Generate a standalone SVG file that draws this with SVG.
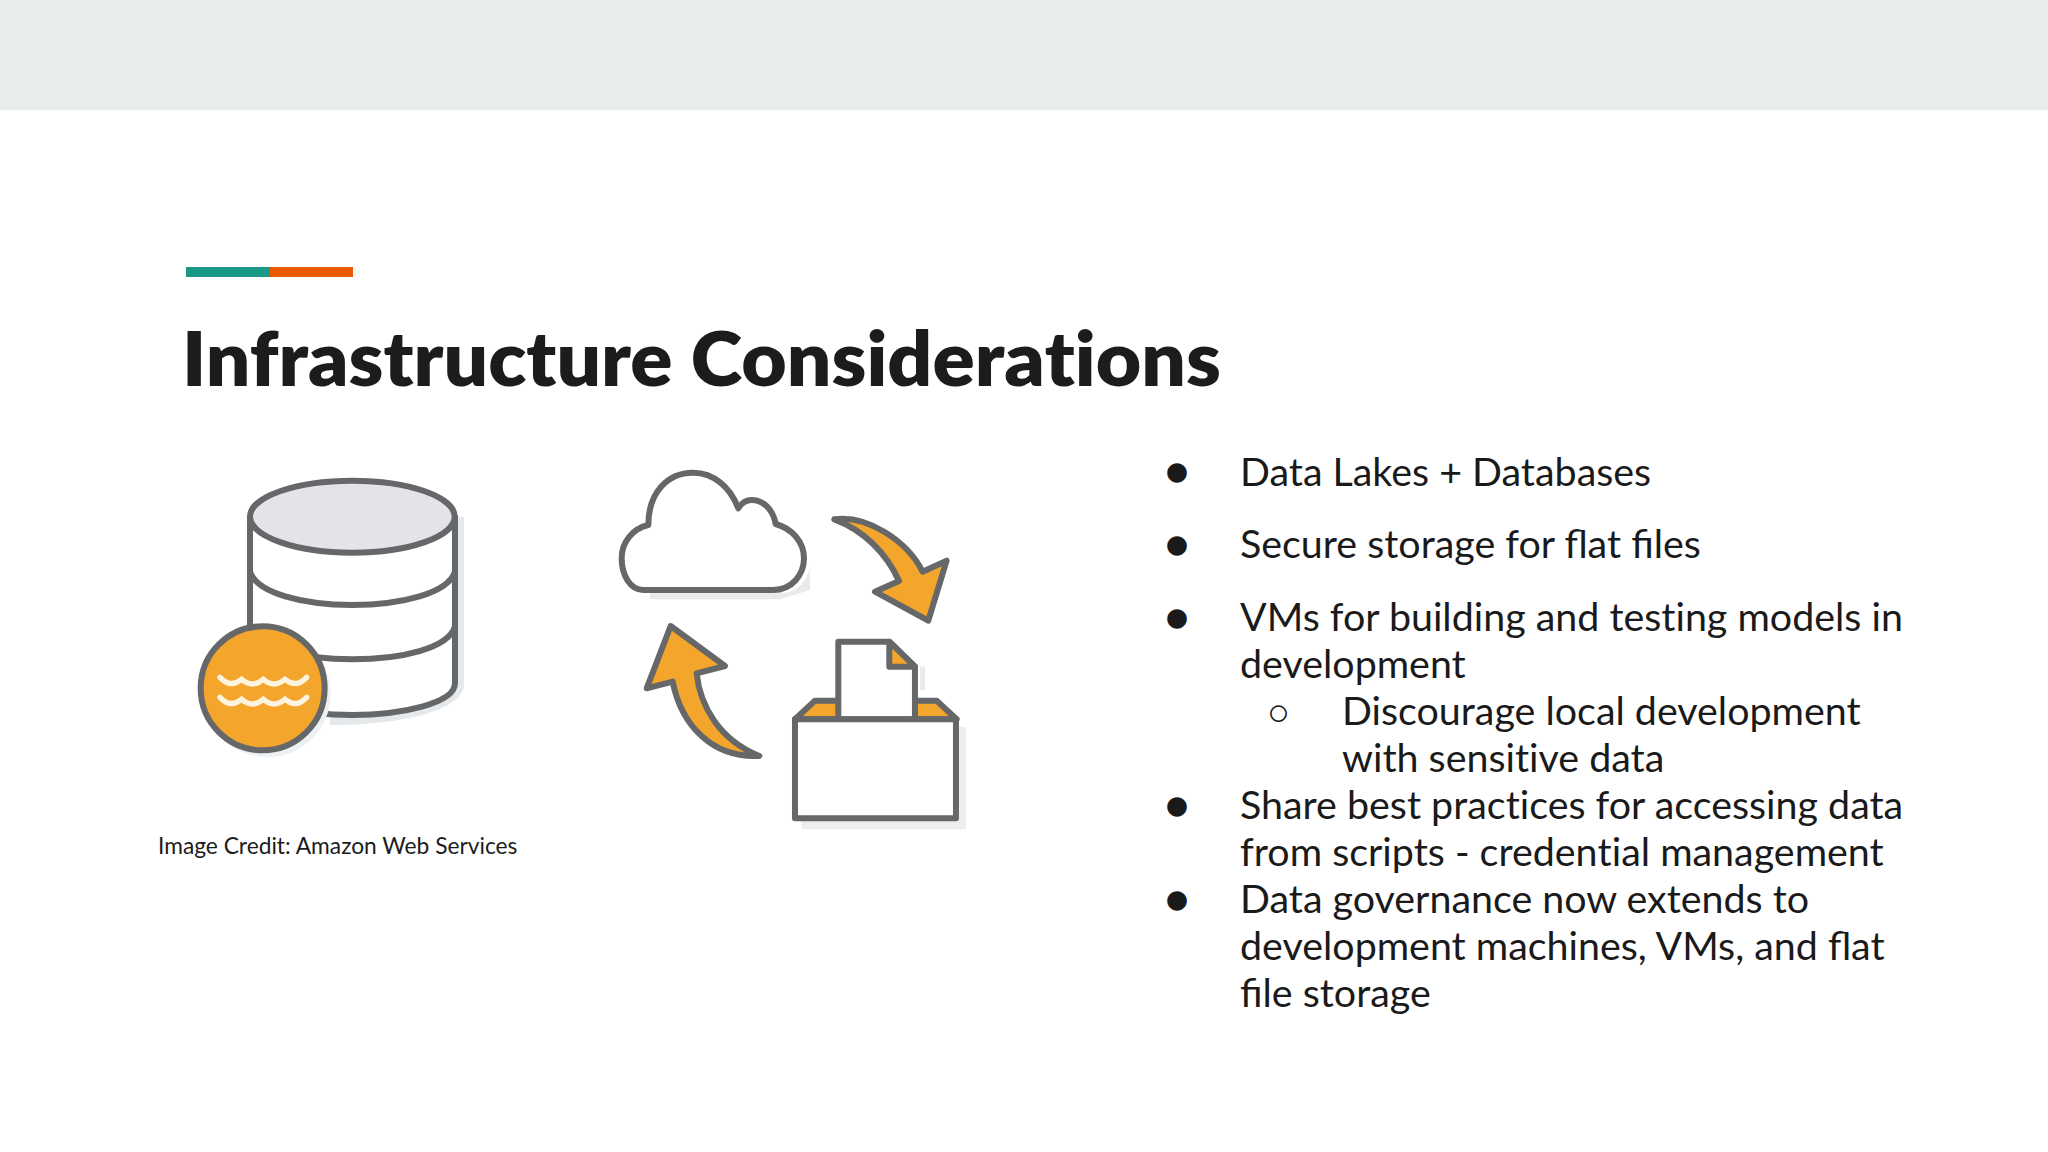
<svg xmlns="http://www.w3.org/2000/svg" width="2048" height="1152" viewBox="0 0 2048 1152">
<defs><style>
.b{font-family:"Lato","Noto Sans",sans-serif;font-size:39.4px;fill:#1a1a1a}
.d{font-family:"Lato","Noto Sans",sans-serif;font-size:40px;fill:#1a1a1a}
.r{font-family:"Liberation Sans",sans-serif;font-size:38px;fill:#1a1a1a}
.n{font-variant-ligatures:none}
.g{stroke:#666769;stroke-width:18;stroke-linejoin:round;stroke-linecap:round}
.o{fill:#f4a62c}.w{fill:#fff}
.s{fill:#e6e9ec;stroke:none}
</style></defs>
<rect width="2048" height="1152" fill="#fff"/>
<rect id="header-band" width="2048" height="110" fill="#e9eeed"/>
<g id="accent"><rect x="186" y="267" width="84" height="10" fill="#1a9a86"/><rect x="270" y="267" width="83" height="10" fill="#e95a02"/></g>
<text id="title" x="182" y="386" font-family="Lato,sans-serif" font-weight="800" font-size="76" fill="#1c1c1c" textLength="1039" lengthAdjust="spacingAndGlyphs">Infrastructure Considera<tspan class="n">ti</tspan>ons</text>
<g id="database-icon" transform="translate(170,450) scale(.3333)">
<path class="s" d="M882 200V710C870 780 700 825 480 825L480 780 850 200Z"/>
<path class="g w" d="M240 200V700C240 760 400 795 547 795S855 760 855 700V200Z"/>
<ellipse class="g" cx="547" cy="200" rx="307" ry="108" fill="#e2e4e8"/>
<path class="g" fill="none" d="M240 365C260 430 400 465 547 465S835 430 855 365M240 530C260 595 400 628 547 628S835 595 855 530"/>
<circle cx="292" cy="732" r="190" fill="#eef1f3"/>
<circle class="g o" cx="278" cy="715" r="186"/>
<path fill="none" stroke="#fdf3df" stroke-width="16" stroke-linecap="round" d="M150 682Q182 716 215 688Q247 716 280 688Q312 716 345 688Q378 716 410 682M150 742Q182 776 215 748Q247 776 280 748Q312 776 345 748Q378 776 410 742"/>
</g>
<g id="cycle-icon" transform="translate(600,450) scale(.3333)">
<path d="M150 430H540C600 430 630 380 630 340V420L540 448H150Z" fill="#e8eaec"/>
<path class="g w" d="M130 420H520C575 420 612 375 612 325C612 275 575 235 527 222C520 180 490 150 455 150C440 150 425 158 415 175C390 110 340 68 280 68C200 68 145 130 145 225C100 235 65 275 65 325C65 375 90 420 130 420Z"/>
<path class="g o" d="M703 208C800 195 920 270 968 365L1040 332L985 512L825 425L897 393C860 310 790 240 703 208Z"/>
<path class="g o" d="M478 918C340 925 245 830 218 695L140 715L212 528L375 648L290 670C300 770 360 870 478 918Z"/>
<path d="M605 830H1098V1138H605Z" fill="#eceef0"/>
<path class="g o" d="M585 808L645 752H1010L1070 808Z"/>
<path d="M960 650L975 650V720H960Z" fill="#e8eaec"/>
<path class="g w" d="M715 808V575H868L945 650V808Z"/>
<path class="g o" d="M868 575L945 650H868Z"/>
<rect class="g w" x="585" y="808" width="483" height="297"/>
</g>
<g id="credit"><text x="158" y="854" font-family="Lato,sans-serif" font-size="22.75" fill="#1c1c1c">Image Credit: Amazon Web Services</text></g>
<g id="bullets">
<text class="d" x="1165" y="485">●</text><text class="b" x="1240" y="486">Data Lakes + Databases</text>
<text class="d" x="1165" y="558">●</text><text class="b" x="1240" y="558">Secure storage for flat files</text>
<text class="d" x="1165" y="631">●</text><text class="b" x="1240" y="631">VMs for building and tes<tspan class="n">ti</tspan>ng models in</text>
<text class="b" x="1240" y="678">development</text>
<text class="r" x="1267" y="725">○</text><text class="b" x="1342" y="725">Discourage local development</text>
<text class="b" x="1342" y="772">with sensi<tspan class="n">ti</tspan>ve data</text>
<text class="d" x="1165" y="819">●</text><text class="b" x="1240" y="819">Share best prac<tspan class="n">ti</tspan>ces for accessing data</text>
<text class="b" x="1240" y="866">from scripts - creden<tspan class="n">ti</tspan>al management</text>
<text class="d" x="1165" y="913">●</text><text class="b" x="1240" y="913">Data governance now extends to</text>
<text class="b" x="1240" y="960">development machines, VMs, and flat</text>
<text class="b" x="1240" y="1007">file storage</text>
</g>
</svg>
